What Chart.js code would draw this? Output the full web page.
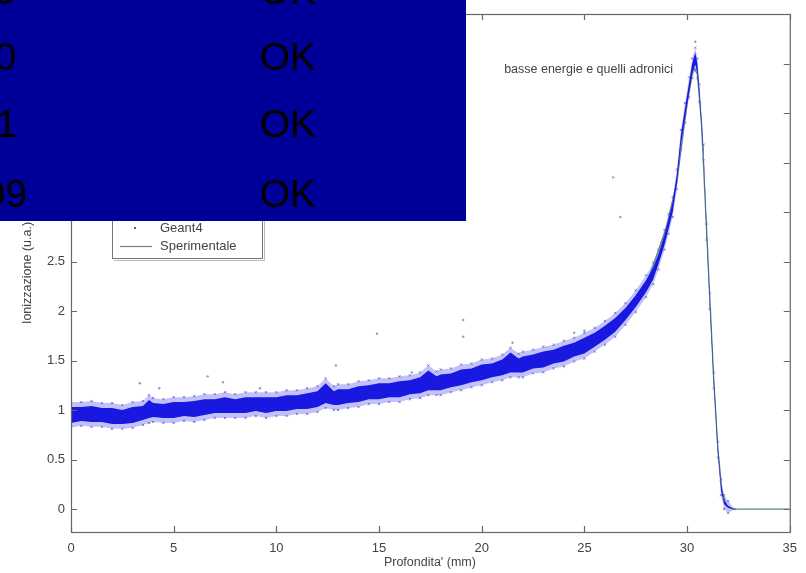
<!DOCTYPE html>
<html>
<head>
<meta charset="utf-8">
<script src="https://cdn.jsdelivr.net/npm/chart.js@4.4.1/dist/chart.umd.min.js"></script>
<style>
  html, body { margin: 0; padding: 0; background: #fff; }
  #wrap { position: relative; width: 806px; height: 573px; overflow: hidden; }
  #braggChart { position: absolute; left: 0; top: 0; }
  #cover { position: absolute; left: 0; top: 0; width: 466px; height: 221px; background: #000099; overflow: hidden; }
  #cover div { position: absolute; font: 39px "Liberation Sans", Arial, sans-serif; line-height: 39px; color: #000; white-space: nowrap; }
</style>
</head>
<body>
<div id="wrap">
  <canvas id="braggChart" width="806" height="573"></canvas>
  <div id="cover"></div>
</div>
<script>
'use strict';

// Geant4 band (dense cloud of points)
var geantX = [0, 0.5, 1, 1.5, 2, 2.5, 3, 3.5, 3.8, 4, 4.5, 5, 5.5, 6, 6.5, 7, 7.5, 8, 8.5, 9, 9.5, 10,
  10.5, 11, 11.5, 12, 12.4, 12.8, 13, 13.5, 14, 14.5, 15, 15.5, 16, 16.5, 17, 17.4, 17.8, 18, 18.5, 19,
  19.5, 20, 20.5, 21, 21.4, 21.8, 22, 22.5, 23, 23.5, 24, 24.5, 25, 25.5, 26, 26.5, 27, 27.5, 28, 28.35,
  28.6, 28.9, 29.1, 29.3, 29.5, 29.7, 29.9, 30.1, 30.25, 30.4, 30.5, 30.6, 30.8, 30.95, 31.1, 31.3,
  31.5, 31.65, 31.8, 32.0, 32.3];
var geantMid = [0.95, 0.96, 0.96, 0.95, 0.94, 0.93, 0.95, 0.97, 1.01, 1.00, 0.99, 1.00, 1.01, 1.01, 1.03,
  1.04, 1.05, 1.04, 1.05, 1.06, 1.05, 1.06, 1.07, 1.08, 1.09, 1.11, 1.17, 1.12, 1.13, 1.14, 1.16, 1.18,
  1.19, 1.20, 1.21, 1.23, 1.25, 1.30, 1.27, 1.28, 1.30, 1.33, 1.35, 1.38, 1.40, 1.43, 1.48, 1.45, 1.46,
  1.49, 1.51, 1.54, 1.57, 1.61, 1.65, 1.71, 1.78, 1.86, 1.97, 2.10, 2.25, 2.38, 2.52, 2.72, 2.88, 3.05,
  3.33, 3.73, 4.00, 4.26, 4.45, 4.55, 4.45, 4.20, 3.60, 2.80, 2.10, 1.30, 0.60, 0.22, 0.07, 0.02, 0.00];
var geantSpread = [0.08, 0.07, 0.08, 0.07, 0.08, 0.07, 0.08, 0.07, 0.09, 0.07, 0.07, 0.08, 0.07, 0.08,
  0.08, 0.07, 0.08, 0.07, 0.08, 0.07, 0.08, 0.07, 0.08, 0.07, 0.08, 0.08, 0.10, 0.07, 0.08, 0.07, 0.08,
  0.07, 0.08, 0.07, 0.08, 0.07, 0.08, 0.10, 0.07, 0.08, 0.07, 0.08, 0.07, 0.08, 0.07, 0.08, 0.10, 0.07,
  0.08, 0.07, 0.08, 0.07, 0.08, 0.07, 0.08, 0.07, 0.07, 0.07, 0.06, 0.06, 0.06, 0.06, 0.05, 0.05, 0.05,
  0.05, 0.05, 0.05, 0.05, 0.05, 0.05, 0.06, 0.05, 0.04, 0.03, 0.03, 0.03, 0.03, 0.03, 0.03, 0.02, 0.01, 0];

// isolated Geant4 points outside the band
var outlierX = [3.35, 6.65, 7.4, 4.3, 12.9, 14.9, 19.1, 19.1, 21.5, 24.5, 25.0, 26.4, 26.75, 30.4, 9.2, 16.6];
var outlierY = [1.27, 1.34, 1.28, 1.22, 1.45, 1.77, 1.91, 1.74, 1.68, 1.78, 1.80, 3.35, 2.95, 4.72, 1.22, 1.38];

// experimental curve
var expX = [0, 5, 10, 15, 20, 24, 26, 27, 28, 29, 29.5, 30, 30.3, 30.5, 30.7, 31, 31.3, 31.5, 31.7, 31.9, 32.2, 35];
var expY = [0.95, 1.0, 1.06, 1.19, 1.38, 1.57, 1.78, 1.97, 2.25, 2.85, 3.3, 4.1, 4.45, 4.4, 3.9, 2.6, 1.3, 0.6, 0.18, 0.04, 0, 0];

var xTicks = [0, 5, 10, 15, 20, 25, 30, 35];
var yTicks = [0, 0.5, 1, 1.5, 2, 2.5, 3, 3.5, 4, 4.5];

var legendLabels = ['Geant4', 'Sperimentale'];
var noteText     = 'basse energie e quelli adronici';
var xTitle       = "Profondita' (mm)";
var yTitle       = 'Ionizzazione (u.a.)';

// rows of the box laid over the top left corner
var coverLeft  = ['3', '0', '1', '09'];
var coverRight = ['OK', 'OK', 'OK', 'OK'];

var FONT = '"Liberation Sans", Arial, Helvetica, sans-serif';

function pts(xs, ys) {
    return xs.map(function (x, i) { return { x: x, y: ys[i] }; });
}
function shifted(xs, ys, sp, sign, extra) {
    return xs.map(function (x, i) { return { x: x, y: ys[i] + sign * (sp[i] + (sp[i] > 0 ? extra : 0)) }; });
}

var bandLine = { showLine: true, pointRadius: 0, borderWidth: 0, tension: 0 };
var haloEdge = {
    showLine: true, tension: 0, borderWidth: 0,
    pointStyle: 'crossRot', pointRadius: 1.6, pointBorderWidth: 1,
    pointBorderColor: 'rgba(50,50,210,0.55)'
};

var framePlugin = {
    id: 'frame',
    afterDraw: function (chart) {
        var ctx = chart.ctx;
        var a = chart.chartArea;
        var xs = chart.scales.x;
        var ys = chart.scales.y;

        ctx.save();
        ctx.strokeStyle = '#666';
        ctx.lineWidth = 1.2;
        ctx.strokeRect(a.left + 0.5, a.top + 0.5, a.right - a.left, a.bottom - a.top);

        // inward ticks on all four sides
        ctx.beginPath();
        xTicks.forEach(function (v) {
            var px = Math.round(xs.getPixelForValue(v)) + 0.5;
            ctx.moveTo(px, a.bottom); ctx.lineTo(px, a.bottom - 6);
            ctx.moveTo(px, a.top); ctx.lineTo(px, a.top + 6);
        });
        yTicks.forEach(function (v) {
            var py = Math.round(ys.getPixelForValue(v)) + 0.5;
            ctx.moveTo(a.left, py); ctx.lineTo(a.left + 6, py);
            ctx.moveTo(a.right, py); ctx.lineTo(a.right - 6, py);
        });
        ctx.stroke();

        // axis titles
        ctx.fillStyle = '#444';
        ctx.font = '12.5px ' + FONT;
        ctx.textAlign = 'center';
        ctx.textBaseline = 'middle';
        ctx.fillText(xTitle, (a.left + a.right) / 2 - 0.5, 563);
        ctx.save();
        ctx.translate(28, (a.top + a.bottom) / 2);
        ctx.rotate(-Math.PI / 2);
        ctx.fillText(yTitle, 0, 0);
        ctx.restore();

        // note inside the plot
        ctx.textAlign = 'right';
        ctx.fillText(noteText, 673, 70);

        // legend box
        ctx.fillStyle = '#fff';
        ctx.fillRect(112, 204, 150, 54);
        ctx.strokeStyle = '#777';
        ctx.lineWidth = 1;
        ctx.strokeRect(112.5, 204.5, 150, 54);
        ctx.strokeStyle = '#bbb';
        ctx.beginPath();
        ctx.moveTo(114, 260.5); ctx.lineTo(264.5, 260.5); ctx.lineTo(264.5, 206);
        ctx.stroke();

        ctx.fillStyle = '#5a5ab0';
        ctx.fillRect(134, 227, 2, 2);
        ctx.strokeStyle = '#6f8585';
        ctx.lineWidth = 1.2;
        ctx.beginPath();
        ctx.moveTo(120, 246.5); ctx.lineTo(152, 246.5);
        ctx.stroke();
        ctx.fillStyle = '#444';
        ctx.font = '13px ' + FONT;
        ctx.textAlign = 'left';
        ctx.fillText(legendLabels[0], 160, 228);
        ctx.fillText(legendLabels[1], 160, 246);
        ctx.restore();
    }
};

new Chart(document.getElementById('braggChart'), {
    type: 'scatter',
    data: {
        datasets: [
            Object.assign({ data: shifted(geantX, geantMid, geantSpread, -1, 0.05), order: 5 }, haloEdge),
            Object.assign({ data: shifted(geantX, geantMid, geantSpread, 1, 0.05), order: 5,
                fill: '-1', backgroundColor: 'rgba(70,70,235,0.33)' }, haloEdge),
            Object.assign({ data: shifted(geantX, geantMid, geantSpread, -1, 0), order: 3 }, bandLine),
            Object.assign({ data: shifted(geantX, geantMid, geantSpread, 1, 0), order: 3,
                fill: '-1', backgroundColor: 'rgb(24,24,225)' }, bandLine),
            {
                data: pts(expX, expY), showLine: true, pointRadius: 0, tension: 0,
                borderColor: '#5f8080', borderWidth: 1.3, order: 4
            },
            {
                data: pts(outlierX, outlierY), pointRadius: 1.2, borderWidth: 0,
                backgroundColor: 'rgba(110,110,190,0.7)', order: 1
            }
        ]
    },
    options: {
        responsive: false,
        animation: false,
        layout: { padding: { top: 14, right: 14, left: 0, bottom: 0 } },
        plugins: { legend: { display: false }, tooltip: { enabled: false } },
        scales: {
            x: {
                type: 'linear', min: 0, max: 35,
                afterFit: function (s) { s.height = 41; },
                afterBuildTicks: function (s) { s.ticks = xTicks.map(function (v) { return { value: v }; }); },
                grid: { display: false, drawTicks: false },
                border: { display: false },
                ticks: { padding: 9, color: '#444', font: { family: FONT, size: 13 }, maxRotation: 0,
                    callback: function (v) { return String(v); } }
            },
            y: {
                type: 'linear', min: -0.232, max: 5.0,
                afterFit: function (s) { s.width = 71; },
                afterBuildTicks: function (s) { s.ticks = yTicks.map(function (v) { return { value: v }; }); },
                grid: { display: false, drawTicks: false },
                border: { display: false },
                ticks: { padding: 6, color: '#444', font: { family: FONT, size: 13 },
                    callback: function (v) { return String(v); } }
            }
        }
    },
    plugins: [framePlugin]
});

// dark box laid over the top left corner
var cover = document.getElementById('cover');
var rowBase   = [4, 70, 137, 207];
var leftStart = [-6, -5, -4, -16];
coverRight.forEach(function (txt, i) {
    var l = document.createElement('div');
    l.textContent = coverLeft[i];
    l.style.left = leftStart[i] + 'px';
    l.style.top = (rowBase[i] - 33) + 'px';
    cover.appendChild(l);
    var r = document.createElement('div');
    r.textContent = txt;
    r.style.left = '260px';
    r.style.top = (rowBase[i] - 33) + 'px';
    cover.appendChild(r);
});
</script>
</body>
</html>
